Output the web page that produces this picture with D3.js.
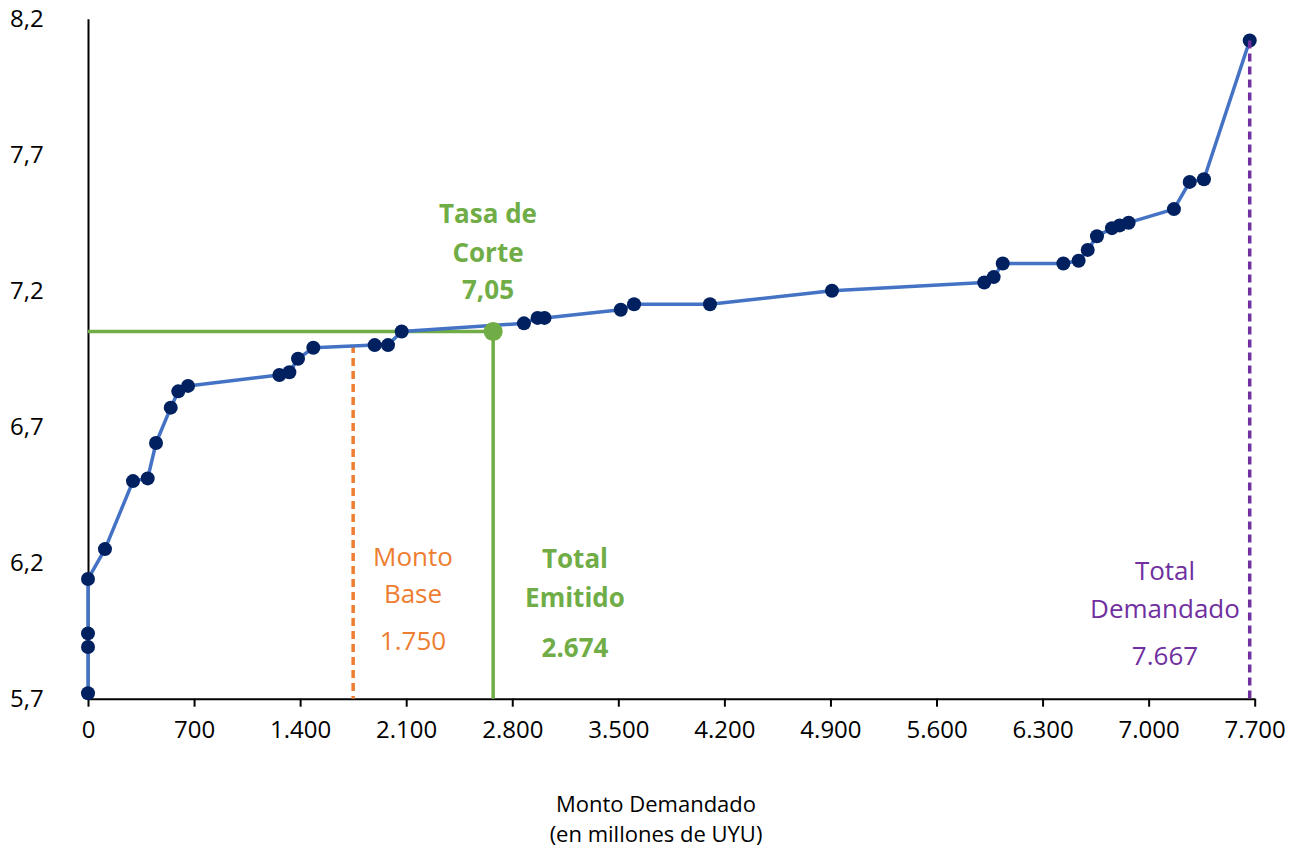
<!DOCTYPE html>
<html><head><meta charset="utf-8">
<script src="https://d3js.org/d3.v7.min.js"></script>
<style>
body{margin:0;background:#fff;}
text{font-family:"Open Sans","Noto Sans",sans-serif;}
</style>
</head>
<body>
<script>
// curva de demanda acumulada (monto en millones de UYU, tasa %)
var montos=[0,0,0,0,112,297,394,449,546,596,660,1263,1329,1386,1487,1892,1980,2070,2877,2967,3013,3516,3604,4105,4910,5915,5977,6037,6437,6538,6598,6659,6758,6809,6868,7167,7271,7365,7667];
var tasas=[5.72,5.89,5.94,6.14,6.25,6.50,6.51,6.64,6.77,6.83,6.85,6.89,6.90,6.95,6.99,7.00,7.00,7.05,7.08,7.10,7.10,7.13,7.15,7.15,7.20,7.23,7.25,7.30,7.30,7.31,7.35,7.40,7.43,7.44,7.45,7.50,7.60,7.61,8.12];
var xTicks=[0,700,1400,2100,2800,3500,4200,4900,5600,6300,7000,7700];
var yTicks=[5.7,6.2,6.7,7.2,7.7,8.2];
var montoBase=1750, tasaBase=7.00;
var totalEmitido=2674, tasaCorte=7.05;
var totalDemandado=7667, tasaMax=8.12;

var W=1305,H=851;
var svg=d3.select("body").append("svg").attr("width",W).attr("height",H);

var x=d3.scaleLinear().domain([0,7700]).range([88,1254.7]);
var y=d3.scaleLinear().domain([5.7,8.2]).range([698.7,18.7]);

var fmtX=function(d){return d3.format(",")(d).replace(/,/g,".");};
var fmtY=function(d){return d3.format(".1f")(d).replace(".",",");};
var fmtT=function(d){return d3.format(".2f")(d).replace(".",",");};

// ejes
var gx=svg.append("g").attr("transform","translate(0,"+y(5.7)+")")
  .call(d3.axisBottom(x).tickValues(xTicks).tickFormat(fmtX).tickSize(8).tickSizeOuter(0));
gx.select(".domain").attr("stroke","#000").attr("stroke-width",2);
gx.selectAll(".tick line").attr("stroke","#000").attr("stroke-width",2);
gx.selectAll(".tick text").attr("font-size",24).attr("fill","#000").attr("dy","1.2em")
  .style("font-family","Open Sans");

var gy=svg.append("g").attr("transform","translate("+x(0)+",0)")
  .call(d3.axisLeft(y).tickValues(yTicks).tickFormat(fmtY).tickSize(0).tickSizeOuter(0));
gy.select(".domain").attr("stroke","#000").attr("stroke-width",2);
gy.selectAll(".tick text").attr("font-size",24).attr("fill","#000").attr("x",-78)
  .attr("text-anchor","start").style("font-family","Open Sans");

// lineas de referencia
svg.append("line").attr("x1",x(montoBase)).attr("x2",x(montoBase))
  .attr("y1",y(tasaBase)).attr("y2",y(5.7))
  .attr("stroke","#ED7D31").attr("stroke-width",3.5).attr("stroke-dasharray","8,5");
svg.append("line").attr("x1",x(0)).attr("x2",x(totalEmitido))
  .attr("y1",y(tasaCorte)).attr("y2",y(tasaCorte))
  .attr("stroke","#70AD47").attr("stroke-width",3.5);

// curva
var line=d3.line().x(function(d,i){return x(montos[i]);}).y(function(d){return y(d);});
svg.append("path").datum(tasas).attr("d",line).attr("fill","none")
  .attr("stroke","#4472C4").attr("stroke-width",3.5).attr("stroke-linejoin","round");

svg.selectAll("circle.pt").data(tasas).enter().append("circle").attr("class","pt")
  .attr("cx",function(d,i){return x(montos[i]);})
  .attr("cy",function(d){return y(d);})
  .attr("r",7).attr("fill","#002060");

svg.append("line").attr("x1",x(totalEmitido)).attr("x2",x(totalEmitido))
  .attr("y1",y(tasaCorte)).attr("y2",y(5.7))
  .attr("stroke","#70AD47").attr("stroke-width",3.5);
svg.append("circle").attr("cx",x(totalEmitido)).attr("cy",y(tasaCorte)).attr("r",9.5).attr("fill","#70AD47");

svg.append("line").attr("x1",x(totalDemandado)).attr("x2",x(totalDemandado))
  .attr("y1",y(tasaMax)).attr("y2",y(5.7))
  .attr("stroke","#7030A0").attr("stroke-width",3.5).attr("stroke-dasharray","8,5");

// etiquetas
function label(lines,cx,ys,color,bold){
  lines.forEach(function(t,i){
    svg.append("text").attr("x",cx).attr("y",ys[i]).attr("text-anchor","middle")
      .attr("dominant-baseline","central").attr("font-size",26)
      .attr("font-weight",bold?"bold":"normal").attr("fill",color).text(t);
  });
}
label(["Tasa de","Corte",fmtT(tasaCorte)],488,[213,252,289],"#70AD47",true);
label(["Monto","Base",fmtX(montoBase)],413,[556,593,640],"#ED7D31",false);
label(["Total","Emitido",fmtX(totalEmitido)],575,[558,597,647],"#70AD47",true);
label(["Total","Demandado",fmtX(totalDemandado)],1165,[570,608,655],"#7030A0",false);

// titulo eje x
svg.append("text").attr("x",656).attr("y",803).attr("text-anchor","middle")
  .attr("dominant-baseline","central").attr("font-size",22).attr("fill","#000").text("Monto Demandado");
svg.append("text").attr("x",656).attr("y",833).attr("text-anchor","middle")
  .attr("dominant-baseline","central").attr("font-size",22).attr("fill","#000").text("(en millones de UYU)");
</script>
</body></html>
